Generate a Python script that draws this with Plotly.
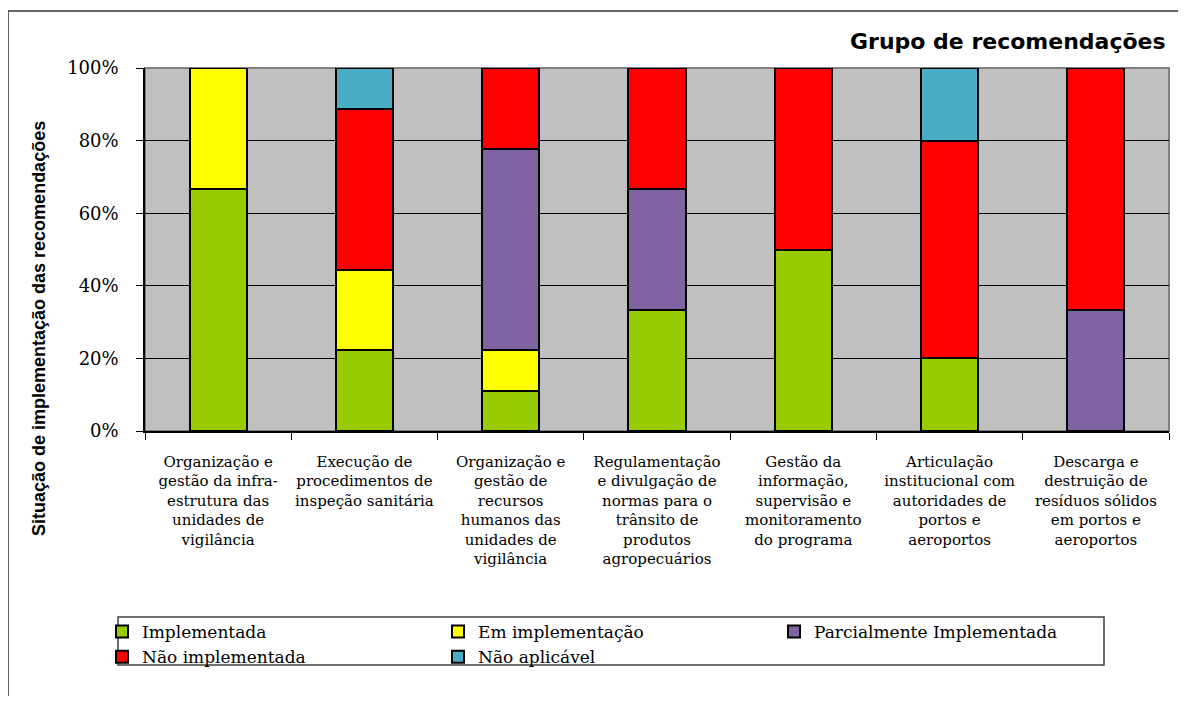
import plotly.graph_objects as go

categories = [
    "Organização e<br>gestão da infra-<br>estrutura das<br>unidades de<br>vigilância",
    "Execução de<br>procedimentos de<br>inspeção sanitária",
    "Organização e<br>gestão de<br>recursos<br>humanos das<br>unidades de<br>vigilância",
    "Regulamentação<br>e divulgação de<br>normas para o<br>trânsito de<br>produtos<br>agropecuários",
    "Gestão da<br>informação,<br>supervisão e<br>monitoramento<br>do programa",
    "Articulação<br>institucional com<br>autoridades de<br>portos e<br>aeroportos",
    "Descarga e<br>destruição de<br>resíduos sólidos<br>em portos e<br>aeroportos",
]

implementada = [66.7, 22.2, 11.1, 33.3, 50.0, 20.0, 0.0]
em_implementacao = [33.3, 22.2, 11.1, 0.0, 0.0, 0.0, 0.0]
parcialmente = [0.0, 0.0, 55.6, 33.3, 0.0, 0.0, 33.3]
nao_implementada = [0.0, 44.4, 22.2, 33.4, 50.0, 60.0, 66.7]
nao_aplicavel = [0.0, 11.1, 0.0, 0.0, 0.0, 20.0, 0.0]

series = [
    ("Implementada", implementada, "#99CC00"),
    ("Em implementação", em_implementacao, "#FFFF00"),
    ("Parcialmente Implementada", parcialmente, "#8064A2"),
    ("Não implementada", nao_implementada, "#FF0000"),
    ("Não aplicável", nao_aplicavel, "#4BACC6"),
]

# page offset caused by the default body margin of the html page
O = 8
W, H = 1186 - 2 * O, 704 - 2 * O
# plot area in page pixels
L, R, T, B = 145 - O, 1169 - O, 68 - O, 431 - O
PW, PH = R - L, B - T


def px(x):
    return (x - O - L) / PW


def py(y):
    return (B - (y - O)) / PH


fig = go.Figure()
for name, vals, color in series:
    fig.add_trace(go.Bar(
        x=categories, y=vals, name=name,
        marker=dict(color=color, line=dict(color="black", width=2)),
    ))

fig.update_layout(
    width=W, height=H,
    barmode="stack",
    bargap=0.61,
    paper_bgcolor="white",
    plot_bgcolor="#C0C0C0",
    margin=dict(l=L, r=W - R, t=T, b=H - B, pad=0),
    showlegend=True,
    legend=dict(
        orientation="h",
        x=px(102), xanchor="left",
        y=py(614), yanchor="top",
        entrywidth=291,
        font=dict(family="DejaVu Serif", size=17, color="black"),
        bgcolor="rgba(0,0,0,0)",
        borderwidth=0,
        traceorder="normal",
    ),
    xaxis=dict(
        showline=True, linecolor="black", linewidth=1.5,
        ticks="outside", tickson="boundaries", ticklen=7, tickcolor="black",
        tickfont=dict(family="DejaVu Serif", size=15, color="black"),
        tickangle=0,
        ticklabelstandoff=16,
        showgrid=False,
    ),
    yaxis=dict(
        range=[0, 100],
        tickvals=[0, 20, 40, 60, 80, 100],
        ticktext=["0%", "20%", "40%", "60%", "80%", "100%"],
        showline=True, linecolor="black", linewidth=1.5,
        ticks="outside", ticklen=7, tickcolor="black",
        tickfont=dict(family="DejaVu Serif", size=18, color="black"),
        ticklabelstandoff=14,
        showgrid=True, gridcolor="black", gridwidth=1,
        zeroline=False,
    ),
    shapes=[
        dict(type="rect", xref="paper", yref="paper",
             x0=0, x1=1, y0=0, y1=1,
             line=dict(color="#808080", width=2), layer="below"),
        dict(type="rect", xref="paper", yref="paper",
             x0=px(8), x1=px(1220), y0=py(11), y1=py(740),
             line=dict(color="#333333", width=1.5)),
        dict(type="rect", xref="paper", yref="paper",
             x0=px(118), x1=px(1104), y0=py(617), y1=py(665),
             line=dict(color="#404040", width=1.5)),
    ],
    annotations=[
        dict(text="<b>Grupo de recomendações</b>", xref="paper", yref="paper",
             x=px(848), y=py(42), xanchor="left", yanchor="middle",
             showarrow=False,
             font=dict(family="DejaVu Sans", size=22, color="black")),
        dict(text="<b>Situação de implementação das recomendações</b>",
             xref="paper", yref="paper",
             x=px(39), y=py(329), xanchor="center", yanchor="middle",
             textangle=-90, showarrow=False,
             font=dict(family="Liberation Sans", size=18, color="black")),
    ],
)

fig.write_html("out.html")
